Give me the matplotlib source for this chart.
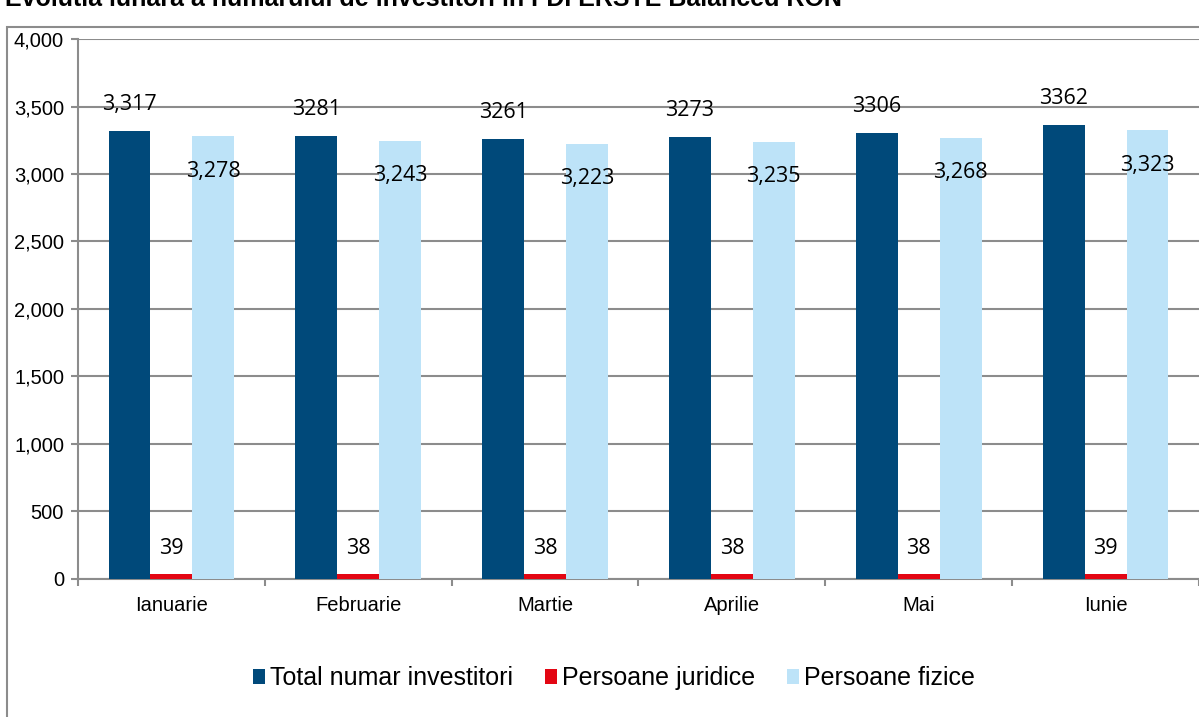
import numpy as np
import matplotlib.pyplot as plt
from matplotlib.patches import Rectangle

plt.rcParams['font.family'] = ['Liberation Sans', 'DejaVu Sans']

luni = ['Ianuarie', 'Februarie', 'Martie', 'Aprilie', 'Mai', 'Iunie']
total = [3317, 3281, 3261, 3273, 3306, 3362]
juridice = [39, 38, 38, 38, 38, 39]
fizice = [3278, 3243, 3223, 3235, 3268, 3323]
total_labels = ['3,317', '3281', '3261', '3273', '3306', '3362']
juridice_labels = ['39', '38', '38', '38', '38', '39']
fizice_labels = ['3,278', '3,243', '3,223', '3,235', '3,268', '3,323']

c_total = '#00497A'
c_jur = '#E30613'
c_fiz = '#BDE3F8'
grid_c = '#8C8C8C'

fig = plt.figure(figsize=(11.99, 7.17), dpi=100)
ax = fig.add_axes([0.065, 0.1925, 0.935, 0.7531])

x = np.arange(len(luni))
w = 0.224
ax.bar(x - w, total, w, color=c_total, label='Total numar investitori', zorder=3)
ax.bar(x, juridice, w, color=c_jur, label='Persoane juridice', zorder=3)
ax.bar(x + w, fizice, w, color=c_fiz, label='Persoane fizice', zorder=3)

lab_font = dict(family=['Open Sans', 'DejaVu Sans'], fontsize=15.5, color='black', zorder=5)
for i in range(len(luni)):
    ax.annotate(total_labels[i], (x[i] - w, total[i]), xytext=(0, 19), textcoords='offset points',
                ha='center', va='center', **lab_font)
    ax.annotate(juridice_labels[i], (x[i], juridice[i]), xytext=(0, 18), textcoords='offset points',
                ha='center', va='center', **lab_font)
    ax.annotate(fizice_labels[i], (x[i] + w, fizice[i]), xytext=(0, -25), textcoords='offset points',
                ha='center', va='center', **lab_font)

ax.set_ylim(0, 4000)
ax.set_xlim(-0.5, len(luni) - 0.5)
ax.set_yticks(np.arange(0, 4001, 500))
ax.set_yticklabels(['{:,}'.format(v) for v in range(0, 4001, 500)], fontsize=14.5)
ax.yaxis.grid(True, color=grid_c, linewidth=1.5, zorder=0)
ax.set_axisbelow(True)

ax.set_xticks(x)
ax.set_xticklabels(luni, fontsize=14.5)
ax.set_xticks(np.arange(-0.5, len(luni), 1), minor=True)
ax.tick_params(axis='x', which='major', length=0, pad=12)
ax.tick_params(axis='x', which='minor', length=5, color=grid_c, width=1.5)
ax.tick_params(axis='y', length=5, color=grid_c, width=1.5, pad=5)

for s in ['top', 'right']:
    ax.spines[s].set_visible(False)
for s in ['left', 'bottom']:
    ax.spines[s].set_color(grid_c)
    ax.spines[s].set_linewidth(1.5)

ax.legend(loc='center', bbox_to_anchor=(0.512, 0.054), bbox_transform=fig.transFigure,
          ncol=3, frameon=False, fontsize=18, handlelength=0.5, handleheight=0.5,
          handletextpad=0.2, columnspacing=1.25)

# outer chart frame (partly outside the picture)
fig.patches.append(Rectangle((7 / 1199, -0.1), 1.2, 1 - 27 / 717 + 0.1,
                             transform=fig.transFigure, fill=False,
                             edgecolor=grid_c, linewidth=1.5))

fig.text(5 / 1199, 1 - 6 / 717, 'Evolutia lunara a numarului de investitori in FDI ERSTE Balanced RON',
         ha='left', va='baseline', fontsize=18, fontweight='bold')

fig.savefig('out.png', dpi=100)
